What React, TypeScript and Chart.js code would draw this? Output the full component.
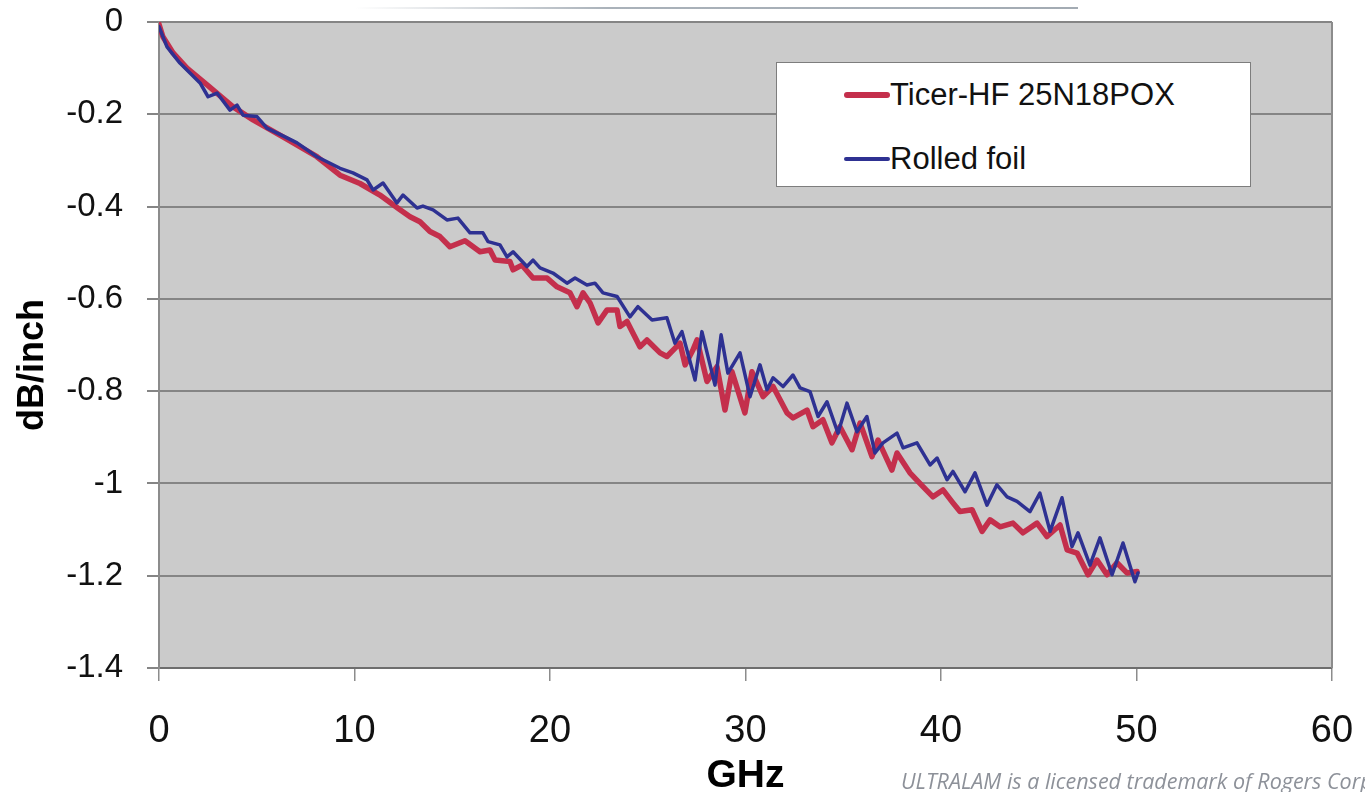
import React, { useEffect, useRef } from "react";
import { Chart, registerables } from "chart.js";

Chart.register(...registerables);

// ---- Data ----
const ticerGHz = [0, 0.2, 0.72, 1.43, 2.46, 3.79, 4.81, 6.34, 8.08, 9.26, 10.28, 11.3, 12.33, 12.84, 13.35, 13.86, 14.37, 14.88, 15.65, 16.42, 16.93, 17.19, 17.95, 18.11, 18.57, 19.13, 19.85, 20.36, 21.02, 21.38, 21.69, 22.05, 22.46, 22.92, 23.43, 23.58, 23.94, 24.6, 24.96, 25.63, 25.98, 26.65, 26.91, 27.31, 27.52, 28.03, 28.54, 28.95, 29.31, 29.97, 30.33, 30.9, 31.41, 32.12, 32.43, 33.15, 33.45, 33.96, 34.42, 34.83, 35.45, 35.86, 36.47, 36.78, 37.49, 37.75, 38.41, 39.08, 39.59, 40.1, 40.61, 40.97, 41.59, 42.1, 42.51, 43.02, 43.68, 44.19, 44.91, 45.42, 46.09, 46.45, 46.96, 47.52, 47.98, 48.49, 49.0, 49.51, 50.03];
const ticerLoss = [-0.005, -0.032, -0.067, -0.1, -0.136, -0.184, -0.212, -0.249, -0.292, -0.332, -0.35, -0.375, -0.407, -0.422, -0.433, -0.454, -0.465, -0.487, -0.474, -0.498, -0.494, -0.516, -0.519, -0.537, -0.527, -0.555, -0.555, -0.574, -0.587, -0.617, -0.587, -0.609, -0.652, -0.624, -0.624, -0.66, -0.649, -0.704, -0.689, -0.717, -0.725, -0.696, -0.743, -0.711, -0.689, -0.779, -0.747, -0.841, -0.758, -0.847, -0.758, -0.812, -0.79, -0.847, -0.858, -0.841, -0.877, -0.862, -0.912, -0.877, -0.927, -0.869, -0.942, -0.906, -0.971, -0.934, -0.977, -1.007, -1.029, -1.014, -1.042, -1.061, -1.057, -1.104, -1.079, -1.094, -1.086, -1.107, -1.086, -1.115, -1.09, -1.144, -1.151, -1.198, -1.166, -1.198, -1.172, -1.194, -1.191];

const rolledGHz = [0, 0.41, 1.07, 2.1, 2.51, 2.97, 3.63, 3.99, 4.3, 5.01, 5.52, 6.55, 7.06, 8.08, 9.26, 9.92, 10.64, 10.95, 11.46, 12.17, 12.48, 13.2, 13.5, 14.02, 14.73, 15.29, 15.91, 16.57, 16.83, 17.44, 17.8, 18.11, 18.82, 19.13, 19.49, 20.15, 20.87, 21.28, 21.89, 22.3, 22.71, 23.43, 24.09, 24.5, 25.22, 25.98, 26.39, 26.75, 27.42, 27.77, 28.44, 28.75, 29.1, 29.72, 30.23, 30.74, 31.1, 31.41, 31.92, 32.43, 32.79, 33.3, 33.71, 34.17, 34.73, 35.19, 35.7, 36.21, 36.62, 37.03, 37.75, 38.06, 38.77, 39.44, 39.8, 40.31, 40.61, 41.23, 41.74, 42.35, 42.86, 43.38, 43.89, 44.55, 45.06, 45.58, 46.19, 46.7, 47.01, 47.62, 48.13, 48.75, 49.31, 49.92, 50.08];
const rolledLoss = [-0.01, -0.054, -0.089, -0.132, -0.162, -0.154, -0.191, -0.18, -0.202, -0.205, -0.23, -0.251, -0.262, -0.292, -0.317, -0.327, -0.342, -0.364, -0.349, -0.392, -0.375, -0.403, -0.399, -0.407, -0.429, -0.425, -0.457, -0.457, -0.476, -0.483, -0.509, -0.498, -0.53, -0.516, -0.533, -0.544, -0.566, -0.555, -0.57, -0.566, -0.587, -0.595, -0.639, -0.617, -0.646, -0.641, -0.696, -0.671, -0.776, -0.671, -0.787, -0.678, -0.761, -0.717, -0.812, -0.743, -0.797, -0.771, -0.79, -0.765, -0.793, -0.801, -0.855, -0.823, -0.891, -0.826, -0.888, -0.855, -0.934, -0.912, -0.891, -0.923, -0.912, -0.96, -0.945, -0.992, -0.974, -1.018, -0.977, -1.047, -1.003, -1.029, -1.039, -1.061, -1.021, -1.104, -1.031, -1.137, -1.107, -1.177, -1.118, -1.198, -1.129, -1.213, -1.194];

const seriesLabels = ["Ticer-HF 25N18POX", "Rolled foil"];
const seriesColors = ["#c42f4c", "#2e3192"];
const seriesWidths = [5.5, 3.5];

const xTickValues = [0, 10, 20, 30, 40, 50, 60];
const yTickValues = [0, -0.2, -0.4, -0.6, -0.8, -1, -1.2, -1.4];
const xTitle = "GHz";
const yTitle = "dB/inch";
const footnote = "ULTRALAM is a licensed trademark of Rogers Corp";

const FONT = '"Liberation Sans", Arial, Helvetica, sans-serif';

const plotFrame = {
  id: "plotFrame",
  beforeDraw(chart: any) {
    const { ctx, chartArea: a } = chart;
    ctx.save();
    ctx.fillStyle = "#cbcbcb";
    ctx.fillRect(a.left, a.top, a.right - a.left, a.bottom - a.top);
    ctx.restore();
  },
  beforeDatasetsDraw(chart: any) {
    const { ctx, chartArea: a } = chart;
    ctx.save();
    ctx.strokeStyle = "#8c8c8c";
    ctx.lineWidth = 2;
    ctx.beginPath();
    ctx.moveTo(a.right, a.top);
    ctx.lineTo(a.right, a.bottom);
    ctx.stroke();
    ctx.restore();
  },
};

const zeroPad = (scale: any) => {
  scale.paddingTop = 0;
  scale.paddingBottom = 0;
  scale.paddingLeft = 0;
  scale.paddingRight = 0;
};

export default function App() {
  const canvasRef = useRef<HTMLCanvasElement | null>(null);

  useEffect(() => {
    const canvas = canvasRef.current;
    if (!canvas) return;
    const toPoints = (xs: number[], ys: number[]) => xs.map((x, i) => ({ x, y: ys[i] }));
    const chart = new Chart(canvas, {
      type: "line",
      data: {
        datasets: [
          {
            label: seriesLabels[0],
            data: toPoints(ticerGHz, ticerLoss),
            borderColor: seriesColors[0],
            backgroundColor: seriesColors[0],
            borderWidth: seriesWidths[0],
            pointRadius: 0,
            tension: 0,
            borderJoinStyle: "round",
            borderCapStyle: "round",
            order: 2,
          },
          {
            label: seriesLabels[1],
            data: toPoints(rolledGHz, rolledLoss),
            borderColor: seriesColors[1],
            backgroundColor: seriesColors[1],
            borderWidth: seriesWidths[1],
            pointRadius: 0,
            tension: 0,
            borderJoinStyle: "round",
            borderCapStyle: "round",
            order: 1,
          },
        ],
      },
      options: {
        animation: false,
        responsive: false,
        devicePixelRatio: 1,
        layout: { padding: { left: 0, right: 33, top: 22, bottom: 0 } },
        plugins: {
          legend: { display: false },
          tooltip: { enabled: false },
        },
        scales: {
          x: {
            type: "linear",
            min: 0,
            max: 60,
            afterBuildTicks: (scale: any) => {
              scale.ticks = xTickValues.map((v) => ({ value: v }));
            },
            afterFit: (scale: any) => {
              scale.height = 124;
              zeroPad(scale);
            },
            ticks: {
              callback: (v: any) => String(v),
              font: { family: FONT, size: 38 },
              color: "#111",
              padding: 28,
              maxRotation: 0,
            },
            grid: {
              drawOnChartArea: false,
              drawTicks: true,
              tickLength: 13,
              color: "#8c8c8c",
              lineWidth: 1.5,
            },
            border: { display: true, color: "#6e6e6e", width: 2 },
            title: {
              display: true,
              text: xTitle,
              font: { family: FONT, size: 39, weight: "bold", lineHeight: 0.8 },
              color: "#000",
              padding: { top: 0, bottom: 0 },
            },
          },
          y: {
            type: "linear",
            min: -1.4,
            max: 0,
            afterBuildTicks: (scale: any) => {
              scale.ticks = yTickValues.map((v) => ({ value: v }));
            },
            afterFit: (scale: any) => {
              scale.width = 159;
              zeroPad(scale);
            },
            ticks: {
              callback: (v: any) => String(v),
              font: { family: FONT, size: 33 },
              color: "#111",
              padding: 24,
            },
            grid: {
              drawOnChartArea: true,
              drawTicks: true,
              tickLength: 12,
              color: "#858585",
              lineWidth: 2,
            },
            border: { display: true, color: "#8c8c8c", width: 2 },
            title: {
              display: true,
              text: yTitle + "    ",
              font: { family: FONT, size: 36, weight: "bold", lineHeight: 1.2 },
              color: "#000",
              padding: { top: 11, bottom: 0 },
            },
          },
        },
      },
      plugins: [plotFrame],
    } as any);
    return () => chart.destroy();
  }, []);

  return (
    <div
      style={{
        position: "fixed",
        left: 0,
        top: 0,
        width: 1365,
        height: 792,
        background: "#fff",
        overflow: "hidden",
      }}
    >
      <div
        style={{
          position: "absolute",
          left: 355,
          top: 7,
          width: 723,
          height: 2,
          background: "linear-gradient(to right, rgba(170,178,186,0), #aab2ba 35%, #a3abb3)",
        }}
      />
      <canvas
        ref={canvasRef}
        width={1365}
        height={792}
        style={{ position: "absolute", left: 0, top: 0, width: 1365, height: 792, display: "block" }}
      />
      <div
        style={{
          position: "absolute",
          left: 776,
          top: 62,
          width: 475,
          height: 125,
          boxSizing: "border-box",
          background: "#fff",
          border: "1.5px solid #7d7d7d",
        }}
      >
        {seriesLabels.map((lab, i) => (
          <div
            key={lab}
            style={{
              position: "absolute",
              left: 67,
              top: i === 0 ? 12 : 76,
              height: 40,
              display: "flex",
              alignItems: "center",
              whiteSpace: "nowrap",
            }}
          >
            <span
              style={{
                display: "inline-block",
                width: 46,
                height: seriesWidths[i] + 0.5,
                background: seriesColors[i],
                borderRadius: 3,
              }}
            />
            <span style={{ fontFamily: FONT, fontSize: 31, lineHeight: "40px", color: "#111" }}>{lab}</span>
          </div>
        ))}
      </div>
      <div
        style={{
          position: "absolute",
          left: 901,
          top: 770,
          fontFamily: '"Open Sans", sans-serif',
          fontStyle: "italic",
          fontSize: 21.5,
          lineHeight: "21.5px",
          color: "#8d9199",
          whiteSpace: "nowrap",
        }}
      >
        {footnote}
      </div>
    </div>
  );
}
